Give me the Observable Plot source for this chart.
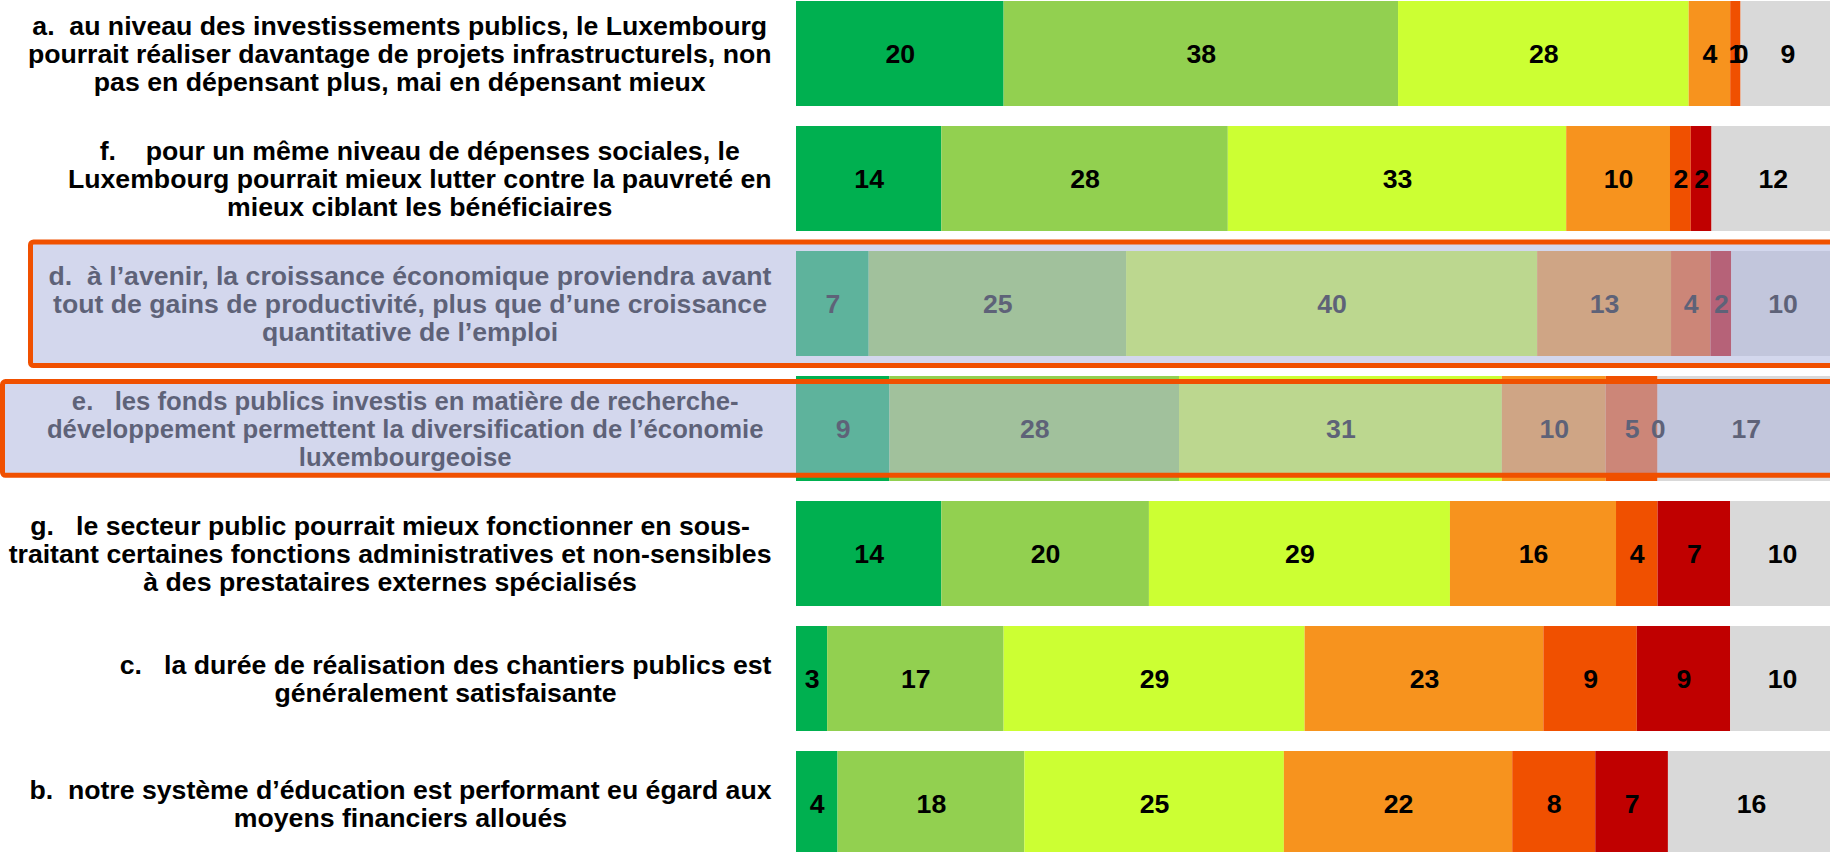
<!DOCTYPE html>
<html><head><meta charset="utf-8">
<script src="https://cdn.jsdelivr.net/npm/d3@7"></script>
<script src="https://cdn.jsdelivr.net/npm/@observablehq/plot@0.6"></script>
<style>html,body{margin:0;padding:0;overflow:hidden;background:#fff}</style>
</head><body><div id="chart"></div>
<script>
// ---- data ----
const rows = ["a", "f", "d", "e", "g", "c", "b"];
const questions = [
  "a.\u00a0 au niveau des investissements publics, le Luxembourg\npourrait réaliser davantage de projets infrastructurels, non\npas en dépensant plus, mai en dépensant mieux",
  "f.\u00a0\u00a0\u00a0 pour un même niveau de dépenses sociales, le\nLuxembourg pourrait mieux lutter contre la pauvreté en\nmieux ciblant les bénéficiaires",
  "d.\u00a0 à l’avenir, la croissance économique proviendra avant\ntout de gains de productivité, plus que d’une croissance\nquantitative de l’emploi",
  "e.\u00a0\u00a0 les fonds publics investis en matière de recherche-\ndéveloppement permettent la diversification de l’économie\nluxembourgeoise",
  "g.\u00a0\u00a0 le secteur public pourrait mieux fonctionner en sous-\ntraitant certaines fonctions administratives et non-sensibles\nà des prestataires externes spécialisés",
  "c.\u00a0\u00a0 la durée de réalisation des chantiers publics est\ngénéralement satisfaisante",
  "b.\u00a0 notre système d’éducation est performant eu égard aux\nmoyens financiers alloués"
];
const categories = ["Tout à fait d’accord", "D’accord", "Plutôt d’accord", "Plutôt pas d’accord", "Pas d’accord", "Pas du tout d’accord", "Sans avis"];
const colors = ["#00B050", "#92D050", "#CCFF33", "#F7931E", "#F05000", "#C00000", "#D9D9D9"];
// values per category, in the order of rows (a, f, d, e, g, c, b)
const toutAFait   = [20, 14,   7,    9,    14, 3,  4];
const daccord     = [38, 27.6, 24.8, 27.9, 20, 17, 18];
const plutot      = [28, 32.6, 39.6, 31.1, 29, 29, 25];
const plutotPas   = [4,  10,   12.9, 10,   16, 23, 22];
const pasDaccord  = [1,  2,    3.8,  5,    4,  9,  8];
const pasDuTout   = [0,  2,    2,    0,    7,  9,  7];
const sansAvis    = [9,  11.8, 9.9,  17,   10, 10, 16];
const series = [toutAFait, daccord, plutot, plutotPas, pasDaccord, pasDuTout, sansAvis];
const highlighted = ["d", "e"];

// ---- build table ----
const table = [];
rows.forEach((r, i) => categories.forEach((c, j) => table.push({row: r, cat: c, value: series[j][i]})));

// ---- style ----
const FONT = '"Liberation Sans", Arial, Helvetica, sans-serif';
const FS = 26.67;
const ML = 796, W = 1830, H = 852;
const labelStyle = {default: {fontSize: FS, right: 771}, e: {fontSize: 25.7, right: 763}};
const ctx = document.createElement("canvas").getContext("2d");

const labelMarks = rows.map((r, i) => {
  const st = labelStyle[r] || labelStyle.default;
  ctx.font = `bold ${st.fontSize}px ${FONT}`;
  const lines = questions[i].split("\n");
  const w = Math.max(...lines.map(l => ctx.measureText(l).width));
  return Plot.text([{row: r, q: questions[i]}], {
    y: "row", text: "q", frameAnchor: "left", textAnchor: "middle", lineAnchor: "middle",
    dx: st.right - w / 2 - ML, lineHeight: 28 / st.fontSize, fontSize: st.fontSize,
    fontWeight: "bold", fill: "black"
  });
});

const plot = Plot.plot({
  width: W, height: H,
  marginLeft: ML, marginRight: -4, marginTop: 0, marginBottom: -5,
  style: {fontFamily: FONT, background: "white", maxWidth: "none", overflow: "hidden"},
  x: {domain: [0, 100], axis: null},
  y: {domain: rows, paddingInner: 0.16, paddingOuter: 0, axis: null},
  color: {domain: categories, range: colors},
  marks: [
    Plot.barX(table, {x: "value", y: "row", fill: "cat", z: "cat"}),
    Plot.text(table, Plot.stackX({x: "value", y: "row", z: "cat", text: d => String(Math.round(d.value)),
      fontSize: FS, fontWeight: "bold", fill: "black"})),
    ...labelMarks
  ]
});

// highlight boxes over rows d and e, positioned with the y band scale
const ys = plot.scale("y");
const bw = ys.bandwidth;
const boxes = [
  {row: highlighted[0], left: 30.5, top: -9, bottom: 9.6},
  {row: highlighted[1], left: 2.5, top: 5.6, bottom: -5.7}
];
const g = d3.select(plot).append("g");
g.selectAll("rect.fill").data(boxes).join("rect")
  .attr("x", d => d.left).attr("width", d => W + 20 - d.left)
  .attr("y", d => ys.apply(d.row) + d.top)
  .attr("height", d => bw - d.top + d.bottom)
  .attr("fill", "#AEB5DE").attr("fill-opacity", 0.54);
g.selectAll("rect.stroke").data(boxes).join("rect")
  .attr("x", d => d.left).attr("width", d => W + 20 - d.left)
  .attr("y", d => ys.apply(d.row) + d.top)
  .attr("height", d => bw - d.top + d.bottom)
  .attr("rx", 3)
  .attr("fill", "none").attr("stroke", "#F05000").attr("stroke-width", 5);

document.getElementById("chart").appendChild(plot);
</script>
</body></html>
